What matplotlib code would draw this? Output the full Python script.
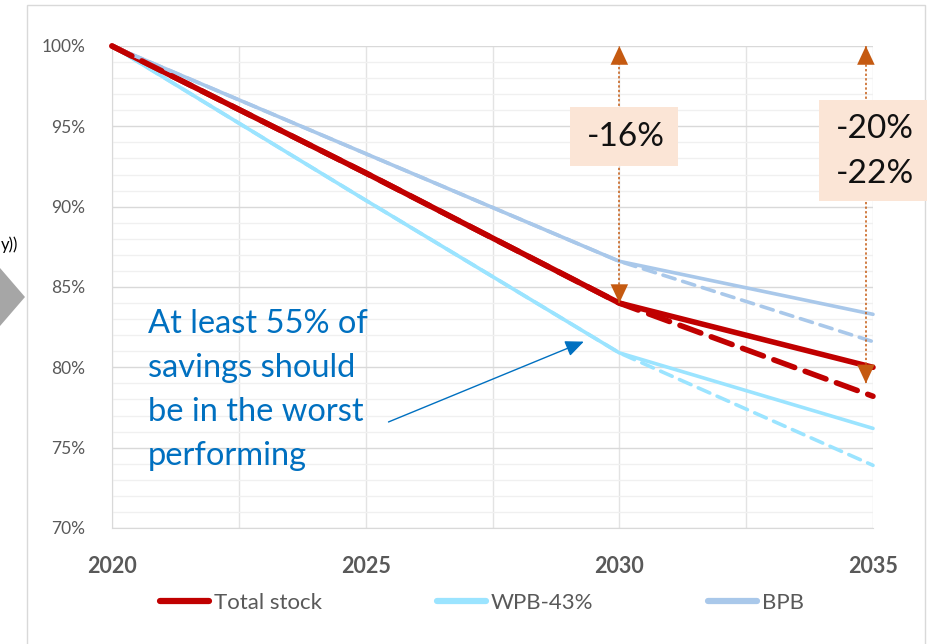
import matplotlib
matplotlib.use("Agg")
import matplotlib.pyplot as plt
from matplotlib.patches import Rectangle, Polygon
from matplotlib.lines import Line2D
from matplotlib.ticker import MultipleLocator, FuncFormatter

# ---- data ----
years = [2020, 2025, 2030, 2035]
total_stock = [1.000, 0.921, 0.840, 0.800]
total_stock_dash = [1.000, 0.921, 0.840, 0.782]
wpb = [1.000, 0.904, 0.809, 0.762]
wpb_dash = [1.000, 0.904, 0.809, 0.739]
bpb = [1.000, 0.933, 0.866, 0.833]
bpb_dash = [1.000, 0.933, 0.866, 0.816]
x_ticks = [2020, 2025, 2030, 2035]
series_names = ["Total stock", "WPB-43%", "BPB"]
gap_labels = ["-16%", "-20%\n-22%"]
gap_years = [2030, 2034.86]
gap_bottoms = [0.840, 0.790]
note_text = "At least 55% of\nsavings should\nbe in the worst\nperforming"

RED = "#C00000"
CYAN = "#9BE4FF"
BLUE = "#A9C8EA"
ORANGE = "#C55A11"
GRAY = "#595959"
FONT = "Lato"

W, H = 933, 644
fig = plt.figure(figsize=(W / 100, H / 100), dpi=100)

def fx(x):
    return x / W

def fy(y):
    return 1 - y / H

# chart border
fig.patches.append(Rectangle((fx(27), fy(650)), fx(925) - fx(27), fy(5) - fy(650),
                             transform=fig.transFigure, fill=False, edgecolor="#D9D9D9", lw=1))
# left partial graphics
fig.patches.append(Polygon([(fx(0), fy(268)), (fx(25), fy(297)), (fx(0), fy(326))],
                           closed=True, transform=fig.transFigure, facecolor="#A6A6A6", edgecolor="none"))
fig.text(fx(1), fy(245), "y))", ha="left", va="center", fontsize=12, color="black", family=FONT)

ax = fig.add_axes([fx(112), fy(528), fx(873) - fx(112), fy(46) - fy(528)])
ax.set_xlim(2020, 2035)
ax.set_ylim(0.70, 1.00)

ax.yaxis.set_major_locator(MultipleLocator(0.05))
ax.yaxis.set_minor_locator(MultipleLocator(0.01))
ax.xaxis.set_major_locator(MultipleLocator(2.5))
ax.grid(which="major", axis="y", color="#D9D9D9", lw=1)
ax.grid(which="minor", axis="y", color="#F0F0F0", lw=1)
ax.grid(which="major", axis="x", color="#E3E3E3", lw=1)
ax.set_axisbelow(True)
for s in ["top", "right"]:
    ax.spines[s].set_visible(False)
for s in ["left", "bottom"]:
    ax.spines[s].set_color("#D9D9D9")
ax.tick_params(axis="both", which="both", length=0)
ax.yaxis.set_major_formatter(FuncFormatter(lambda v, p: f"{v*100:.0f}%"))
ax.tick_params(axis="y", labelsize=12.5, labelcolor=GRAY, pad=19)
ax.xaxis.set_major_formatter(FuncFormatter(lambda v, p: f"{v:.0f}" if abs(v - round(v / 5) * 5) < 1e-6 else ""))
ax.tick_params(axis="x", labelsize=15.5, labelcolor=GRAY, pad=20)
for lab in ax.get_xticklabels():
    lab.set_fontweight("bold")
for lab in ax.get_xticklabels() + ax.get_yticklabels():
    lab.set_family(FONT)

# lines
ax.plot(years, wpb, color=CYAN, lw=2.6, solid_capstyle="round", clip_on=False, zorder=3)
ax.plot(years, total_stock, color=RED, lw=4.0, solid_capstyle="round", clip_on=False, zorder=4)
ax.plot(years, bpb, color=BLUE, lw=2.6, solid_capstyle="round", clip_on=False, zorder=5)
ax.plot(years, wpb_dash, color=CYAN, lw=2.6, ls=(0, (3.5, 2.2)), dash_capstyle="round", clip_on=False, zorder=3)
ax.plot(years, bpb_dash, color=BLUE, lw=2.6, ls=(0, (3.5, 2.2)), dash_capstyle="round", clip_on=False, zorder=5)
ax.plot(years, total_stock_dash, color=RED, lw=4.0, ls=(0, (4.0, 2.0)), dash_capstyle="round", clip_on=False, zorder=6)

# gap arrows
for gx, gb in zip(gap_years, gap_bottoms):
    ax.plot([gx, gx], [gb, 1.0], color=ORANGE, lw=1.1, ls=(0, (1.5, 1.5)), clip_on=False, zorder=7)
    for tip, base in [(1.0, 0.992), (gb, gb + 0.008)]:
        ax.annotate("", xy=(gx, tip), xytext=(gx, base),
                    arrowprops=dict(arrowstyle="-|>,head_length=0.75,head_width=0.35",
                                    color=ORANGE, lw=0.01, shrinkA=0, shrinkB=0,
                                    mutation_scale=18), annotation_clip=False, zorder=8)

# text boxes
boxes = [(570, 107, 678, 166), (819, 100, 927, 201)]
for (x0, y0, x1, y1), lab in zip(boxes, gap_labels):
    fig.patches.append(Rectangle((fx(x0), fy(y1)), fx(x1) - fx(x0), fy(y0) - fy(y1),
                                 transform=fig.transFigure, facecolor="#FBE5D6", edgecolor="none", zorder=10))
    fig.text(fx((x0 + x1) / 2 + 2), fy((y0 + y1) / 2 + 1), lab, ha="center", va="center",
             fontsize=24, color="#111111", family=FONT, linespacing=1.65, zorder=11)

# note
fig.text(fx(148), fy(309), note_text, ha="left", va="top", fontsize=23.5, color="#0070C0",
         family=FONT, linespacing=1.58)
ax.annotate("", xy=(2029.3, 0.816), xytext=(2025.45, 0.766),
            arrowprops=dict(arrowstyle="-|>,head_length=0.8,head_width=0.35", color="#0070C0",
                            lw=1.0, shrinkA=0, shrinkB=0, mutation_scale=14), zorder=9)

# legend
handles = [Line2D([], [], color=RED, lw=4.5, solid_capstyle="round"),
           Line2D([], [], color=CYAN, lw=4.5, solid_capstyle="round"),
           Line2D([], [], color=BLUE, lw=4.5, solid_capstyle="round")]
leg = fig.legend(handles, series_names, loc="center", bbox_to_anchor=(fx(482), fy(603)), ncol=3,
                 frameon=False, handlelength=2.2, handletextpad=0.2, columnspacing=5.2,
                 prop={"family": FONT, "size": 16})
for t in leg.get_texts():
    t.set_color(GRAY)

fig.savefig("out.png", dpi=100)
